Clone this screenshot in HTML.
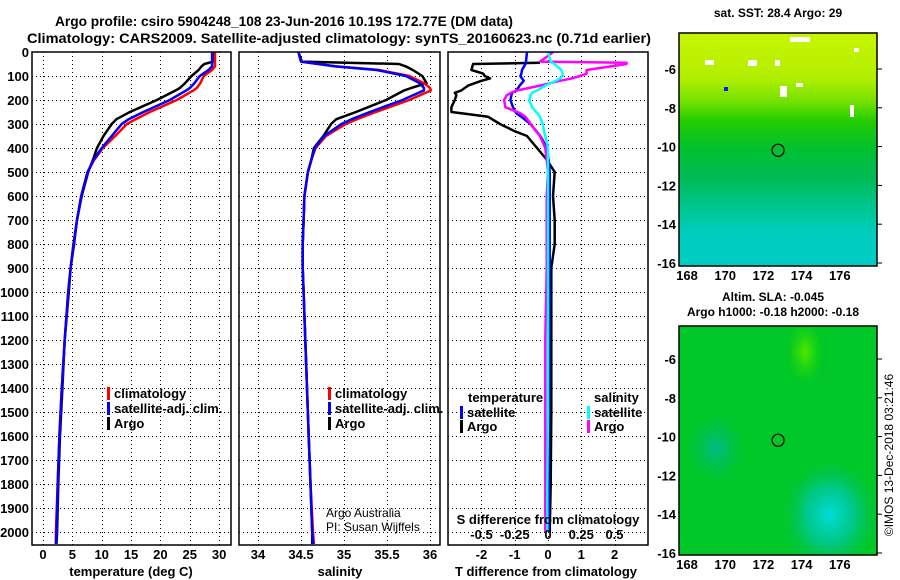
<!DOCTYPE html>
<html><head><meta charset="utf-8"><style>
body{margin:0;background:#fff;}
svg{display:block;font-family:"Liberation Sans",sans-serif;font-weight:bold;}
</style></head><body>
<svg id="c" width="900" height="580" viewBox="0 0 900 580" xmlns="http://www.w3.org/2000/svg">
<defs>
<linearGradient id="sstg" x1="0" y1="0" x2="0" y2="1">
<stop offset="0" stop-color="#c8f500"/><stop offset="0.2" stop-color="#b0ee00"/><stop offset="0.3" stop-color="#6ee000"/>
<stop offset="0.38" stop-color="#22cc00"/><stop offset="0.5" stop-color="#00c030"/><stop offset="0.62" stop-color="#00bb55"/>
<stop offset="0.75" stop-color="#00c690"/><stop offset="0.85" stop-color="#00cdbd"/><stop offset="1" stop-color="#00ccc4"/>
</linearGradient>
<radialGradient id="blobc" cx="0.5" cy="0.5" r="0.5"><stop offset="0" stop-color="#00dcd8"/><stop offset="0.5" stop-color="#00c8a0" stop-opacity="0.8"/><stop offset="1" stop-color="#00c060" stop-opacity="0"/></radialGradient>
<radialGradient id="blobt" cx="0.5" cy="0.5" r="0.5"><stop offset="0" stop-color="#00bb88"/><stop offset="1" stop-color="#00bb55" stop-opacity="0"/></radialGradient>
<radialGradient id="blobl" cx="0.5" cy="0.5" r="0.5"><stop offset="0" stop-color="#55e800"/><stop offset="1" stop-color="#22d800" stop-opacity="0"/></radialGradient>
<clipPath id="clip1"><rect x="679" y="33" width="198" height="233"/></clipPath>
<clipPath id="clip2"><rect x="679" y="326" width="198" height="229"/></clipPath>
</defs>
<g id="titles">
<text x="55" y="26" font-size="14" textLength="458" lengthAdjust="spacingAndGlyphs">Argo profile: csiro 5904248_108 23-Jun-2016 10.19S 172.77E (DM data)</text>
<text x="27" y="43" font-size="14" textLength="624" lengthAdjust="spacingAndGlyphs">Climatology: CARS2009. Satellite-adjusted climatology: synTS_20160623.nc (0.71d earlier)</text>
</g>
<g id="plots"></g>
<g id="maps"></g>
<text transform="translate(893,455) rotate(-90)" text-anchor="middle" font-size="12" font-weight="normal">©IMOS 13-Dec-2018 03:21:46</text>
</svg>
<script>
// ---------- data ----------
const depths   = [0, 40, 50, 60, 75, 100, 130, 150, 160, 200, 250, 280, 300, 350, 400, 450, 500, 600, 700, 800, 900, 1000, 1200, 1400, 1600, 1800, 2000, 2050];
const tempArgo = [29.0,29.0,27.5,27.0,26.5,25.3,24.2,23.3,22.6,19.4,14.8,12.5,11.7,10.3,9.2,8.5,7.7,6.6,5.8,5.3,4.7,4.4,3.7,3.3,2.9,2.6,2.4,2.3];
const tempClim = [29.3,29.3,29.3,29.3,28.8,27.4,26.8,26.2,25.6,22.8,18.2,15.8,14.3,12.3,10.2,8.7,7.6,6.5,5.8,5.2,4.7,4.3,3.7,3.2,2.8,2.5,2.2,2.2];
const tempSat  = [28.8,28.8,28.8,28.8,28.2,26.7,25.8,25.0,24.4,21.6,17.1,14.6,13.4,11.7,10.0,8.6,7.6,6.5,5.8,5.2,4.7,4.3,3.7,3.2,2.8,2.5,2.3,2.2];
const salArgo  = [34.47,34.51,35.64,35.72,35.80,35.91,35.96,35.78,35.70,35.49,35.14,34.91,34.85,34.76,34.65,34.62,34.58,34.54,34.53,34.52,34.52,34.53,34.55,34.57,34.59,34.61,34.63,34.63];
const salClim  = [34.47,34.50,34.70,34.91,35.41,35.76,35.93,36.00,36.01,35.76,35.37,35.15,35.02,34.79,34.67,34.62,34.58,34.54,34.53,34.52,34.52,34.53,34.55,34.57,34.59,34.61,34.64,34.65];
const salSat   = [34.47,34.50,34.70,34.90,35.38,35.72,35.88,35.93,35.93,35.68,35.30,35.09,34.97,34.77,34.66,34.62,34.58,34.54,34.53,34.52,34.52,34.53,34.55,34.57,34.59,34.61,34.63,34.64];
const dDepths  = [0, 40, 45, 50, 75, 90, 100, 110, 120, 140, 160, 170, 180, 200, 230, 250, 255, 270, 300, 330, 350, 400, 450, 500, 600, 700, 800, 900, 1200, 1500, 1800, 2000];
const dTArgo   = [null,null,-0.24,-2.25,-2.3,-1.95,-1.9,-1.74,-2.0,-2.4,-2.6,-2.8,-2.75,-2.8,-2.9,-2.9,-2.6,-1.8,-1.44,-1.0,-0.63,-0.33,-0.03,0.2,0.15,0.2,0.2,0.1,0.1,0.1,0.08,0.05];
const dTSat    = [-0.63,-0.66,-0.67,-0.68,-0.78,-0.8,-0.83,-0.78,-0.73,-0.85,-0.95,-1.08,-1.1,-1.13,-1.05,-0.98,-0.95,-0.8,-0.53,-0.35,-0.23,-0.03,0.02,0.05,0.05,0.05,0.05,0.05,0.04,0.03,0.02,0.02];
const dSArgo   = [0.04,-0.06,0.59,0.59,0.29,0.29,0.24,0.18,0.09,-0.06,-0.23,-0.28,-0.31,-0.33,-0.32,-0.23,-0.21,-0.17,-0.13,-0.09,-0.06,-0.02,-0.01,0,-0.01,-0.01,-0.01,-0.01,-0.02,-0.02,-0.02,-0.02];
const dSSat    = [0.0,0.02,0.03,0.05,0.10,0.11,0.11,0.09,0.06,-0.02,-0.08,-0.12,-0.13,-0.14,-0.12,-0.09,-0.08,-0.06,-0.04,-0.03,-0.02,0,0,0,0,0,0,0,0,0,-0.005,-0.005];
const depthTicks = [0,100,200,300,400,500,600,700,800,900,1000,1100,1200,1300,1400,1500,1600,1700,1800,1900,2000];
const tempTicks = [0,5,10,15,20,25,30];
const salTicks = [34,34.5,35,35.5,36];
const salTickLabels = ["34","34.5","35","35.5","36"];
const dTTicks = [-2,-1,0,1,2];
const dSTicks = [-0.5,-0.25,0,0.25,0.5];
const dSTickLabels = ["-0.5","-0.25","0","0.25","0.5"];
const latTicks = [-6,-8,-10,-12,-14,-16];
const lonTicks = [168,170,172,174,176];
const argoLon = 172.77, argoLat = -10.19;

// ---------- helpers ----------
const NS="http://www.w3.org/2000/svg";
function mk(tag,parent){const e=document.createElementNS(NS,tag);parent.appendChild(e);return e;}
const plots=document.getElementById('plots');
const yD = d => 52 + 0.24*d;
const plotTop=52, plotBot=545;

function panel(name){
  const g=mk('g',plots);
  
  
  return g;
}
function grid(g,x0,x1,xs){
  depthTicks.forEach(d=>{ if(d===0)return;
    const y=Math.round(yD(d))+0.5;
    const l=mk('line',g);l.setAttribute('x1',x0);l.setAttribute('x2',x1);l.setAttribute('y1',y);l.setAttribute('y2',y);
    l.setAttribute('stroke','#000');l.setAttribute('stroke-width','1');l.setAttribute('stroke-dasharray','1 3');l.setAttribute('shape-rendering','crispEdges');
    
    
  });
  xs.forEach(xv=>{
    const x=Math.round(xv)+0.5;
    const l=mk('line',g);l.setAttribute('x1',x);l.setAttribute('x2',x);l.setAttribute('y1',plotTop);l.setAttribute('y2',plotBot);
    l.setAttribute('stroke','#000');l.setAttribute('stroke-width','1');l.setAttribute('stroke-dasharray','1 3');l.setAttribute('shape-rendering','crispEdges');
    
    
  });
}
function frame(g,x0,x1){
  const r=mk('rect',g);r.setAttribute('x',x0);r.setAttribute('y',plotTop);r.setAttribute('width',x1-x0);r.setAttribute('height',plotBot-plotTop);
  r.setAttribute('fill','none');r.setAttribute('stroke','#000');r.setAttribute('stroke-width','1.5');
  
  
}
function series(g,xf,vals,dep,color,name,w){
  let pts=[];const segs=[];
  vals.forEach((v,i)=>{ if(v===null){ if(pts.length)segs.push(pts);pts=[];return;}
    pts.push(xf(v).toFixed(1)+','+yD(dep[i]).toFixed(1)); });
  if(pts.length)segs.push(pts);
  segs.forEach(s=>{
    const p=mk('polyline',g);p.setAttribute('points',s.join(' '));p.setAttribute('fill','none');
    p.setAttribute('stroke',color);p.setAttribute('stroke-width',w||2.5);p.setAttribute('stroke-linejoin','round');
    
    
  });
}
function txt(g,x,y,s,opts){
  const t=mk('text',g);t.setAttribute('x',x);t.setAttribute('y',y);t.textContent=s;
  t.setAttribute('font-size',(opts&&opts.size)||13);
  if(opts&&opts.anchor)t.setAttribute('text-anchor',opts.anchor);
  if(opts&&opts.normal)t.setAttribute('font-weight','normal');
  if(opts&&opts.fill)t.setAttribute('fill',opts.fill);
  return t;
}
function legend(g,x,y,color,label){
  const r=mk('rect',g);r.setAttribute('x',x);r.setAttribute('y',y-10);r.setAttribute('width',3);r.setAttribute('height',13);r.setAttribute('fill',color);
  
  
  const t=txt(g,x+7,y+1,label);
  
  
}

// ---------- temperature panel ----------
const xT = t => 43 + 5.87*t;
let g=panel('temperature-panel');
grid(g,32,231,tempTicks.map(xT));
series(g,xT,tempArgo,depths,'#000','argo-temperature-line');
series(g,xT,tempClim,depths,'#f00','climatology-temperature-line');
series(g,xT,tempSat,depths,'#00f','satellite-temperature-line');
frame(g,32,231);
depthTicks.forEach(d=>{const t=txt(g,29,yD(d)+5,String(d),{anchor:'end'});
  
  });
tempTicks.forEach(v=>{const t=txt(g,xT(v),559,String(v),{anchor:'middle'});
  
  });
let tt=txt(g,131,576,'temperature (deg C)',{anchor:'middle'});


legend(g,107,397,'#f00','climatology');
legend(g,107,412,'#00f','satellite-adj. clim.');
legend(g,107,427,'#000','Argo');

// ---------- salinity panel ----------
const xS = s => 258 + 86*(s-34);
g=panel('salinity-panel');
grid(g,239,440,salTicks.map(xS));
series(g,xS,salArgo,depths,'#000','argo-salinity-line');
series(g,xS,salClim,depths,'#f00','climatology-salinity-line');
series(g,xS,salSat,depths,'#00f','satellite-salinity-line');
frame(g,239,440);
salTicks.forEach((v,i)=>{const t=txt(g,xS(v),559,salTickLabels[i],{anchor:'middle'});
  
  });
tt=txt(g,340,576,'salinity',{anchor:'middle'});


legend(g,328,397,'#f00','climatology');
legend(g,328,412,'#00f','satellite-adj. clim.');
legend(g,328,427,'#000','Argo');
tt=txt(g,326,517,'Argo Australia',{normal:true,size:12});


tt=txt(g,326,531,'PI: Susan Wijffels',{normal:true,size:12});



// ---------- difference panel ----------
const xDT = v => 548 + 33.3*v;
const xDS = v => 548 + 133*v;
g=panel('difference-panel');
grid(g,448,648,dTTicks.map(xDT));
series(g,xDT,dTArgo,dDepths,'#000','argo-temperature-difference-line');
series(g,xDT,dTSat,dDepths,'#00f','satellite-temperature-difference-line');
series(g,xDS,dSArgo,dDepths,'#f0f','argo-salinity-difference-line');
series(g,xDS,dSSat,dDepths,'#0ff','satellite-salinity-difference-line');
frame(g,448,648);
dTTicks.forEach(v=>{const t=txt(g,xDT(v),559,String(v),{anchor:'middle'});
  
  });
dSTicks.forEach((v,i)=>{const t=txt(g,xDS(v),539,dSTickLabels[i],{anchor:'middle'});
  
  });
tt=txt(g,548,524,'S difference from climatology',{anchor:'middle'});


tt=txt(g,546,576,'T difference from climatology',{anchor:'middle'});


tt=txt(g,468,402,'temperature');


tt=txt(g,594,402,'salinity');


legend(g,460,416,'#00f','satellite');
legend(g,460,430,'#000','Argo');
legend(g,587,416,'#0ff','satellite');
legend(g,587,430,'#f0f','Argo');

// ---------- maps ----------
const maps=document.getElementById('maps');
const xLon = lon => 687 + 19.1*(lon-168);
function drawMap(name,ytop,ybot,yLat6,fill,extra,titles,clip){
  const mg=mk('g',maps);
  
  
  const yLat = lat => yLat6 + 19.4*(-6-lat);
  const inner=mk('g',mg);inner.setAttribute('clip-path','url(#'+clip+')');
  
  
  const r=mk('rect',inner);r.setAttribute('x',679);r.setAttribute('y',ytop);r.setAttribute('width',198);r.setAttribute('height',ybot-ytop);r.setAttribute('fill',fill);
  
  
  extra(inner,yLat);
  const f=mk('rect',mg);f.setAttribute('x',679);f.setAttribute('y',ytop);f.setAttribute('width',198);f.setAttribute('height',ybot-ytop);
  f.setAttribute('fill','none');f.setAttribute('stroke','#000');f.setAttribute('stroke-width','1.5');
  
  
  latTicks.forEach(l=>{const t=txt(mg,676,yLat(l)+5,String(l),{anchor:'end'});
    
    
    const tk=mk('line',mg);tk.setAttribute('x1',877);tk.setAttribute('x2',882);tk.setAttribute('y1',yLat(l));tk.setAttribute('y2',yLat(l));tk.setAttribute('stroke','#000');
    
    });
  lonTicks.forEach(l=>{const t=txt(mg,xLon(l),ybot+14,String(l),{anchor:'middle'});
    
    });
  const c=mk('circle',mg);c.setAttribute('cx',xLon(argoLon));c.setAttribute('cy',yLat(argoLat));c.setAttribute('r',6);
  c.setAttribute('fill','none');c.setAttribute('stroke','#000');c.setAttribute('stroke-width','1.2');
  
  
  titles.forEach(tl=>{const t=txt(mg,tl[0],tl[1],tl[2],{anchor:'middle',size:12});
    
    });
}
drawMap('sst-map',33,266,69,'url(#sstg)',(mg,yLat)=>{
  [[790,37,10,5],[800,37,10,5],[705,60,9,5],[748,60,9,6],[775,60,5,6],[780,86,7,11],[796,83,7,4],[850,105,4,12],[854,48,5,4]].forEach(b=>{
    const w=mk('rect',mg);w.setAttribute('x',b[0]);w.setAttribute('y',b[1]);w.setAttribute('width',b[2]);w.setAttribute('height',b[3]);w.setAttribute('fill','#fff');
    
    });
  const bl=mk('rect',mg);bl.setAttribute('x',724);bl.setAttribute('y',87);bl.setAttribute('width',4);bl.setAttribute('height',4);bl.setAttribute('fill','#0020ff');
  
  
},[[778,17,'sat.  SST: 28.4 Argo: 29']],'clip1');
drawMap('sla-map',326,555,359,'#00c828',(mg,yLat)=>{
  const e1=mk('ellipse',mg);e1.setAttribute('cx',805);e1.setAttribute('cy',352);e1.setAttribute('rx',18);e1.setAttribute('ry',32);e1.setAttribute('fill','url(#blobl)');
  
  
  const e2=mk('ellipse',mg);e2.setAttribute('cx',716);e2.setAttribute('cy',448);e2.setAttribute('rx',30);e2.setAttribute('ry',35);e2.setAttribute('fill','url(#blobt)');
  
  
  const e3=mk('ellipse',mg);e3.setAttribute('cx',830);e3.setAttribute('cy',515);e3.setAttribute('rx',48);e3.setAttribute('ry',55);e3.setAttribute('fill','url(#blobc)');
  
  
},[[773,301,'Altim. SLA: -0.045'],[773,316,'Argo h1000: -0.18 h2000: -0.18']],'clip2');
</script>
</body></html>
